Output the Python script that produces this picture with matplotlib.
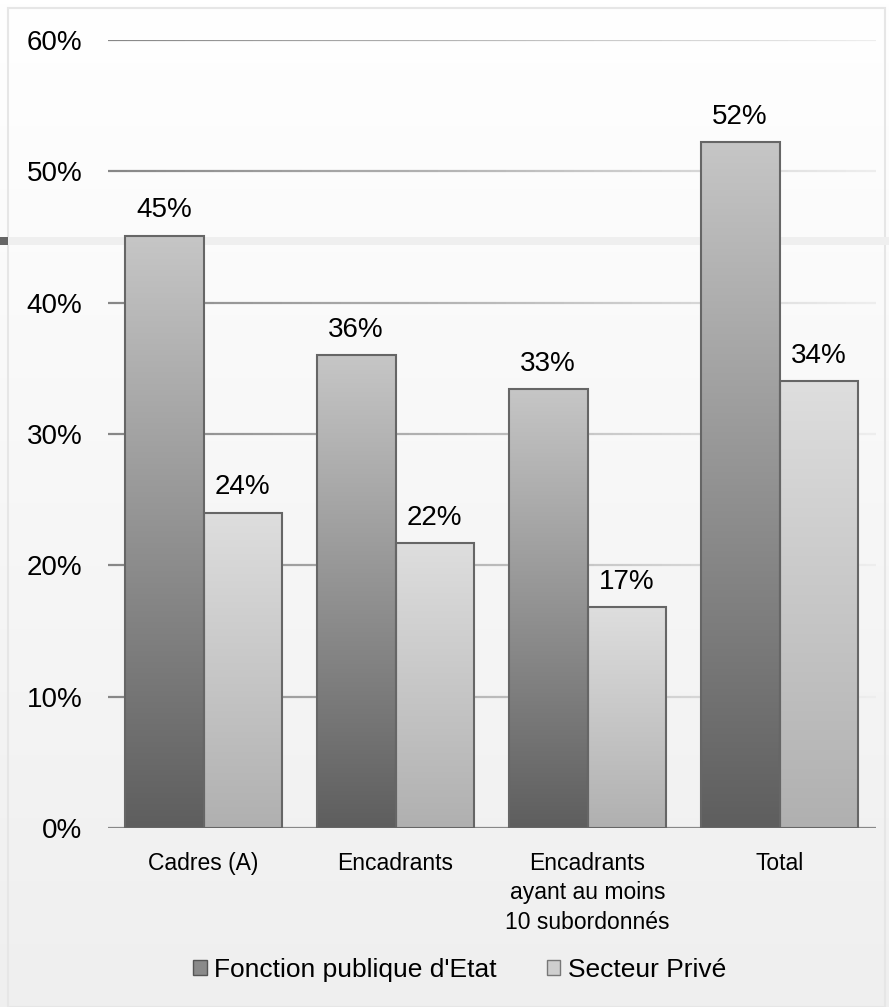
import numpy as np
import matplotlib
matplotlib.use('Agg')
import matplotlib.pyplot as plt
from matplotlib.patches import Rectangle, Patch
from matplotlib.collections import LineCollection
from matplotlib.colors import LinearSegmentedColormap

plt.rcParams['font.family'] = ['Liberation Sans', 'DejaVu Sans']

categories = ['Cadres (A)', 'Encadrants', 'Encadrants\nayant au moins\n10 subordonnés', 'Total']
fonction_publique = [45.1, 36.0, 33.4, 52.2]
secteur_prive = [24.0, 21.7, 16.8, 34.0]
series_names = ["Fonction publique d'Etat", 'Secteur Privé']
y_ticks = [0, 10, 20, 30, 40, 50, 60]

W, H = 889, 1007
fig = plt.figure(figsize=(W / 100, H / 100), dpi=100)

# background panel: white at top fading to light grey
bg = fig.add_axes([0, 0, 1, 1], zorder=-10)
bg.set_axis_off()
grad = np.linspace(1.0, 0.0, 256).reshape(-1, 1)
bg_cmap = LinearSegmentedColormap.from_list('bg', ['#efefef', '#ffffff'])
bg.imshow(grad, aspect='auto', cmap=bg_cmap, extent=[0, 1, 0, 1], origin='upper')
bg.set_xlim(0, 1)
bg.set_ylim(0, 1)
bg.add_patch(Rectangle((8 / W, 0), 1 - 12 / W, 1 - 8 / H, fill=False,
                       edgecolor='#e6e6e6', lw=1.5))
# faint band left from the page
bg.add_patch(Rectangle((0, 1 - 245 / H), 1, 8 / H, color='#efefef', lw=0))
bg.add_patch(Rectangle((0, 1 - 245 / H), 8 / W, 8 / H, color='#666666', lw=0))

ax = fig.add_axes([107.5 / W, 1 - 828 / H, 768 / W, 788 / H])
ax.patch.set_alpha(0)
for s in ax.spines.values():
    s.set_visible(False)

x = np.arange(len(categories))
bw = 0.41
xlim = (-0.5, len(categories) - 0.5)
ylim = (0, 60)

# gridlines fading to the right
for t in y_ticks[1:]:
    xs = np.linspace(xlim[0], xlim[1], 80)
    segs = [[(xs[i], t), (xs[i + 1], t)] for i in range(len(xs) - 1)]
    f = np.linspace(0, 1, len(segs))
    cols = [(0.53 + 0.4 * v, 0.53 + 0.4 * v, 0.53 + 0.4 * v) for v in f]
    ax.add_collection(LineCollection(segs, colors=cols, linewidths=1.6, zorder=0))
ax.axhline(0, color='#888888', lw=1.6, zorder=1)

cm1 = LinearSegmentedColormap.from_list('s1', ['#5e5e5e', '#c6c6c6'])
cm2 = LinearSegmentedColormap.from_list('s2', ['#b0b0b0', '#dedede'])
vgrad = np.linspace(1, 0, 256).reshape(-1, 1)

for vals, off, cmap in [(fonction_publique, -bw / 2, cm1), (secteur_prive, bw / 2, cm2)]:
    bars = ax.bar(x + off, vals, width=bw, facecolor='none', edgecolor='#666666',
                  linewidth=1.5, zorder=3)
    for b, v in zip(bars, vals):
        im = ax.imshow(vgrad, cmap=cmap, aspect='auto', origin='upper',
                       extent=[b.get_x(), b.get_x() + b.get_width(), 0, v], zorder=2)
        im.set_clip_path(b)
        ax.annotate(f'{v:.0f}%', (b.get_x() + b.get_width() / 2, v),
                    xytext=(0, 9), textcoords='offset points',
                    ha='center', va='bottom', fontsize=20, color='black')

ax.set_xlim(*xlim)
ax.set_ylim(*ylim)
ax.set_yticks(y_ticks)
ax.set_yticklabels([f'{t}%' for t in y_ticks], fontsize=20)
ax.set_xticks(x)
ax.set_xticklabels(categories, fontsize=16.5, linespacing=1.38)
ax.tick_params(axis='y', length=0, pad=18)
ax.tick_params(axis='x', length=0, pad=17)

handles = [Patch(facecolor='#8a8a8a', edgecolor='#555555', lw=1),
           Patch(facecolor='#cfcfcf', edgecolor='#777777', lw=1)]
fig.legend(handles, series_names, loc='center', bbox_to_anchor=(460 / W, 1 - 970 / H),
           ncol=2, frameon=False, fontsize=19, handlelength=0.5, handleheight=0.5,
           handletextpad=0.3, columnspacing=1.9)

fig.savefig('out.png', dpi=100)
